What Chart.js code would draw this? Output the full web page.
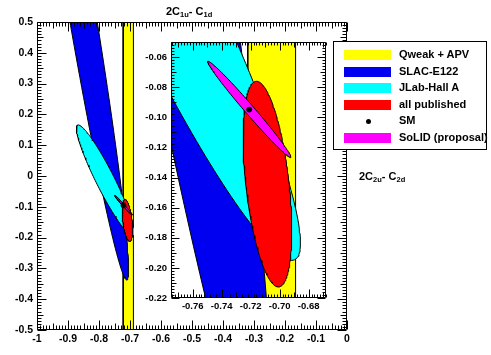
<!DOCTYPE html>
<html>
<head>
<meta charset="utf-8">
<script src="https://cdn.jsdelivr.net/npm/chart.js@4/dist/chart.umd.min.js"></script>
<style>
html,body{margin:0;padding:0;background:#fff;}
#wrap{position:relative;width:491px;height:355px;overflow:hidden;background:#fff;font-family:'Liberation Sans',Arial,Helvetica,sans-serif;font-weight:bold;color:#000;}
canvas{position:absolute;}
#main{left:0;top:0;}
#inset{left:134px;top:32px;background:#fff;}
.ttl{position:absolute;font-size:11px;line-height:11px;white-space:nowrap;}
.ttl sub{font-size:7.5px;vertical-align:-2px;line-height:0;}
#legend{position:absolute;left:333px;top:41px;width:154px;height:109px;box-sizing:border-box;border:1px solid #000;background:#fff;}
.sw{position:absolute;left:10px;width:47px;height:10px;}
.dot{position:absolute;left:32px;width:5px;height:5px;border-radius:50%;background:#000;}
.lt{position:absolute;left:65px;font-size:11px;line-height:11px;white-space:nowrap;}
</style>
</head>
<body>
<div id="wrap">
  <canvas id="main" width="491" height="355"></canvas>
  <canvas id="inset" width="199" height="288"></canvas>
  <div class="ttl" style="left:166px;top:6px;">2C<sub>1u</sub>- C<sub>1d</sub></div>
  <div class="ttl" style="left:359px;top:171px;">2C<sub>2u</sub>- C<sub>2d</sub></div>
  <div id="legend"></div>
</div>
<script>
// ---------------- data ----------------
const seriesNames  = ['Qweak + APV', 'SLAC-E122', 'JLab-Hall A', 'all published', 'SM', 'SoLID (proposal)'];
const seriesColors = ['#ffff00', '#0000f0', '#00ffff', '#ff0000', '#000000', '#ff00ff'];

// Qweak + APV vertical band (2C1u - C1d limits)
const bandX = [-0.722, -0.689];

// Contours (data units): centre, vertical half-extent, tilt (dx/dy of conjugate axis), horizontal half-width at centre
const ellipseSeries = [1, 2, 3, 5];               // index into seriesNames
const ellipseCx     = [-0.8766, -0.7793, -0.7084, -0.7209];
const ellipseCy     = [ 0.6623, -0.0145, -0.1444, -0.0948];
const ellipseHalfH  = [ 1.0,     0.1805,  0.0683,  0.032 ];
const ellipseTilt   = [-0.166,  -0.4856, -0.110,  -0.889 ];
const ellipseHalfW  = [ 0.0446,  0.033,   0.0150,  0.0042];

// Standard Model point
const smX = [-0.721];
const smY = [-0.0949];

// Main frame axes
const mainXRange = [-1, 0];
const mainYRange = [-0.5, 0.5];
const mainXTicks = [-1, -0.9, -0.8, -0.7, -0.6, -0.5, -0.4, -0.3, -0.2, -0.1, 0];
const mainXLabels = ['-1', '-0.9', '-0.8', '-0.7', '-0.6', '-0.5', '-0.4', '-0.3', '-0.2', '-0.1', '0'];
const mainYTicks = [-0.5, -0.4, -0.3, -0.2, -0.1, 0, 0.1, 0.2, 0.3, 0.4, 0.5];
const mainYLabels = ['-0.5', '-0.4', '-0.3', '-0.2', '-0.1', '0', '0.1', '0.2', '0.3', '0.4', '0.5'];

// Zoomed inset axes
const insetXRange = [-0.775, -0.668];
const insetYRange = [-0.22, -0.05];
const insetXTicks = [-0.76, -0.74, -0.72, -0.70, -0.68];
const insetXLabels = ['-0.76', '-0.74', '-0.72', '-0.70', '-0.68'];
const insetYTicks = [-0.22, -0.20, -0.18, -0.16, -0.14, -0.12, -0.10, -0.08, -0.06];
const insetYLabels = ['-0.22', '-0.20', '-0.18', '-0.16', '-0.14', '-0.12', '-0.10', '-0.08', '-0.06'];

// ---------------- build ----------------
const FONT = "'Liberation Sans', Arial, Helvetica, sans-serif";

function contour(k) {
  const pts = [];
  const N = 180;
  for (let i = 0; i <= N; i++) {
    const t = 2 * Math.PI * i / N;
    const s = Math.sin(t), c = Math.cos(t);
    pts.push({
      x: ellipseCx[k] + ellipseTilt[k] * ellipseHalfH[k] * s + ellipseHalfW[k] * c,
      y: ellipseCy[k] + ellipseHalfH[k] * s
    });
  }
  return pts;
}

function buildDatasets(yr) {
  const ds = [];
  ds.push({
    label: seriesNames[0],
    data: [{x: bandX[0], y: yr[0]}, {x: bandX[1], y: yr[0]}, {x: bandX[1], y: yr[1]}, {x: bandX[0], y: yr[1]}, {x: bandX[0], y: yr[0]}],
    backgroundColor: seriesColors[0], borderColor: '#000', borderWidth: 1,
    fill: 'shape', pointRadius: 0, tension: 0, order: 10, clip: 0
  });
  const orders = [8, 6, 4, 2];
  ellipseSeries.forEach((si, k) => {
    ds.push({
      label: seriesNames[si], data: contour(k),
      backgroundColor: seriesColors[si], borderColor: '#000', borderWidth: 1,
      fill: 'shape', pointRadius: 0, tension: 0, order: orders[k], clip: 0
    });
  });
  ds.push({
    label: seriesNames[4], data: smX.map((x, i) => ({x: x, y: smY[i]})),
    showLine: false, fill: false,
    pointStyle: 'circle', pointRadius: 2.6,
    pointBackgroundColor: seriesColors[4], pointBorderColor: seriesColors[4], pointBorderWidth: 0.5,
    order: -1, clip: 5
  });
  return ds;
}

const rootAxes = {
  id: 'rootAxes',
  afterDatasetsDraw(chart, args, o) {
    const ctx = chart.ctx, a = chart.chartArea, xs = chart.scales.x, ys = chart.scales.y;
    const L = Math.round(a.left) + 0.5, R = Math.round(a.right) - 0.5;
    const T = Math.round(a.top) + 0.5, B = Math.round(a.bottom) - 0.5;
    const marks = (first, step, lo, hi) => {
      const out = [], sub = step / 10;
      const n0 = Math.floor((lo - first) / sub) - 1, n1 = Math.ceil((hi - first) / sub) + 1;
      for (let i = n0; i <= n1; i++) {
        const v = first + i * sub;
        if (v < lo - 1e-9 || v > hi + 1e-9) continue;
        const m = ((i % 10) + 10) % 10;
        out.push([v, m === 0 ? o.major : (m === 5 ? o.mid : o.minor)]);
      }
      return out;
    };
    ctx.save();
    ctx.strokeStyle = '#000';
    ctx.lineWidth = 1;
    ctx.beginPath();
    ctx.rect(L, T, R - L, B - T);
    for (const [v, len] of marks(o.xFirst, o.xStep, xs.min, xs.max)) {
      const p = Math.round(xs.getPixelForValue(v)) + 0.5;
      ctx.moveTo(p, B); ctx.lineTo(p, B - len);
      ctx.moveTo(p, T); ctx.lineTo(p, T + len);
    }
    for (const [v, len] of marks(o.yFirst, o.yStep, ys.min, ys.max)) {
      const p = Math.round(ys.getPixelForValue(v)) + 0.5;
      ctx.moveTo(L, p); ctx.lineTo(L + len, p);
      ctx.moveTo(R, p); ctx.lineTo(R - len, p);
    }
    ctx.stroke();
    // SM marker, placed through the chart's own scales (drawn on top of all contours)
    const smMeta = chart.getDatasetMeta(chart.data.datasets.length - 1);
    ctx.fillStyle = seriesColors[4];
    smMeta.data.forEach(pt => {
      ctx.beginPath();
      ctx.arc(pt.x, pt.y, 2.5, 0, 2 * Math.PI);
      ctx.fill();
    });
    ctx.restore();
  }
};

function makeChart(id, c) {
  const axis = (range, ticks, labels, fit, size, pad) => ({
    type: 'linear', min: range[0], max: range[1],
    afterBuildTicks: s => { s.ticks = ticks.map(v => ({value: v})); },
    afterFit: fit,
    grid: {display: false, drawTicks: false},
    border: {display: false},
    ticks: {
      callback: (v, i) => labels[i], autoSkip: false, maxRotation: 0, minRotation: 0,
      padding: pad, color: '#000', font: {family: FONT, size: size, weight: 'bold'}
    }
  });
  return new Chart(document.getElementById(id), {
    type: 'line',
    data: {datasets: buildDatasets(c.yr)},
    options: {
      responsive: false, animation: false, devicePixelRatio: 1, events: [],
      layout: {padding: c.padding},
      plugins: {
        legend: {display: false}, tooltip: {enabled: false},
        rootAxes: c.axes
      },
      scales: {
        x: axis(c.xr, c.xt, c.xl, s => { s.height = c.xh; }, c.font, c.xpad),
        y: axis(c.yr, c.yt, c.yl, s => { s.width = c.yw; }, c.font, c.ypad)
      }
    },
    plugins: [rootAxes]
  });
}

makeChart('main', {
  xr: mainXRange, yr: mainYRange, xt: mainXTicks, xl: mainXLabels, yt: mainYTicks, yl: mainYLabels,
  padding: {left: 0, right: 144, top: 22, bottom: 0}, xh: 25, yw: 37, font: 10.5, xpad: 3, ypad: 4,
  axes: {xFirst: -1, xStep: 0.1, yFirst: -0.5, yStep: 0.1, major: 9, mid: 6, minor: 4}
});

makeChart('inset', {
  xr: insetXRange, yr: insetYRange, xt: insetXTicks, xl: insetXLabels, yt: insetYTicks, yl: insetYLabels,
  padding: {left: 0, right: 7, top: 10, bottom: 0}, xh: 22, yw: 37, font: 9.5, xpad: 3, ypad: 4,
  axes: {xFirst: -0.76, xStep: 0.02, yFirst: -0.22, yStep: 0.02, major: 8, mid: 5, minor: 3}
});

// ---------------- legend ----------------
const legend = document.getElementById('legend');
seriesNames.forEach((name, i) => {
  const cy = 13 + i * 16.5;
  if (name === 'SM') {
    const d = document.createElement('div');
    d.className = 'dot'; d.style.top = (cy - 2.5) + 'px';
    legend.appendChild(d);
  } else {
    const s = document.createElement('div');
    s.className = 'sw'; s.style.top = (cy - 5) + 'px'; s.style.background = seriesColors[i];
    legend.appendChild(s);
  }
  const t = document.createElement('div');
  t.className = 'lt'; t.style.top = (cy - 6) + 'px'; t.textContent = name;
  legend.appendChild(t);
});
</script>
</body>
</html>
